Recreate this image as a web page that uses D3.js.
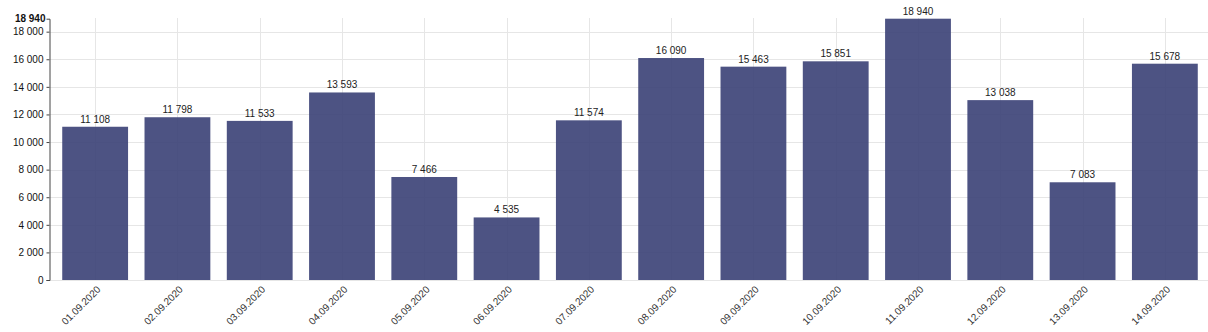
<!DOCTYPE html>
<html><head><meta charset="utf-8">
<script src="https://cdn.jsdelivr.net/npm/d3@7"></script>
<style>
body{margin:0;background:#fff;}
text{font-family:"Liberation Sans",Arial,sans-serif;}
</style></head>
<body>
<svg id="chart" width="1208" height="332"></svg>
<script>
const categories = ["01.09.2020","02.09.2020","03.09.2020","04.09.2020","05.09.2020","06.09.2020","07.09.2020","08.09.2020","09.09.2020","10.09.2020","11.09.2020","12.09.2020","13.09.2020","14.09.2020"];
const values = [11108,11798,11533,13593,7466,4535,11574,16090,15463,15851,18940,13038,7083,15678];
const yTicks = [0,2000,4000,6000,8000,10000,12000,14000,16000,18000];
const yMax = 18940;

const svg = d3.select("#chart");
const fmt = v => d3.format(",")(v).replace(/,/g, " ");

const x = d3.scaleBand().domain(categories).range([54, 1206]).paddingInner(0.2).paddingOuter(0.1);
const y = d3.scaleLinear().domain([0, yMax]).range([280, 18.7]);

// horizontal grid
svg.append("g").selectAll("line").data(yTicks).join("line")
  .attr("x1", 50).attr("x2", 1208)
  .attr("y1", d => Math.round(y(d)) + 0.5).attr("y2", d => Math.round(y(d)) + 0.5)
  .attr("stroke", "#e6e6e6");

// vertical grid at band centers
svg.append("g").selectAll("line").data(categories).join("line")
  .attr("x1", d => Math.round(x(d) + x.bandwidth()/2) + 0.5)
  .attr("x2", d => Math.round(x(d) + x.bandwidth()/2) + 0.5)
  .attr("y1", 18).attr("y2", 280)
  .attr("stroke", "#e6e6e6");

// bars
svg.append("g").selectAll("rect").data(values).join("rect")
  .attr("x", (d,i) => x(categories[i]))
  .attr("width", x.bandwidth())
  .attr("y", d => y(d))
  .attr("height", d => y(0) - y(d))
  .attr("fill", "#3a4075")
  .attr("fill-opacity", 0.9);

// value labels
svg.append("g").selectAll("text").data(values).join("text")
  .attr("x", (d,i) => x(categories[i]) + x.bandwidth()/2)
  .attr("y", d => y(d) - 4)
  .attr("text-anchor", "middle")
  .attr("font-size", 10)
  .attr("fill", "#222")
  .text(d => fmt(d));

// y axis
const yAxis = d3.axisLeft(y).tickValues(yTicks).tickSize(3).tickFormat(fmt);
const gy = svg.append("g").attr("transform", "translate(49.5,0)").call(yAxis);
gy.select(".domain").attr("stroke", "#444");
gy.selectAll(".tick line").attr("stroke", "#444");
gy.selectAll(".tick text").attr("font-size", 10).attr("fill", "#111").attr("font-family", "Liberation Sans, Arial, sans-serif");
// max label
gy.append("text").attr("x", -4).attr("y", y(yMax)).attr("dy", "0.32em")
  .attr("text-anchor", "end").attr("font-size", 10).attr("font-weight", "bold")
  .attr("fill", "#111").text(fmt(yMax));

// x axis labels
const xAxis = d3.axisBottom(x).tickSize(0);
const gx = svg.append("g").attr("transform", "translate(0,280)").call(xAxis);
gx.select(".domain").remove();
gx.selectAll(".tick text")
  .attr("font-size", 10).attr("fill", "#333")
  .attr("font-family", "Liberation Sans, Arial, sans-serif")
  .attr("text-anchor", "end")
  .attr("dx", 0).attr("dy", 0)
  .attr("transform", "translate(4,8) rotate(-45)");
</script>
</body></html>
